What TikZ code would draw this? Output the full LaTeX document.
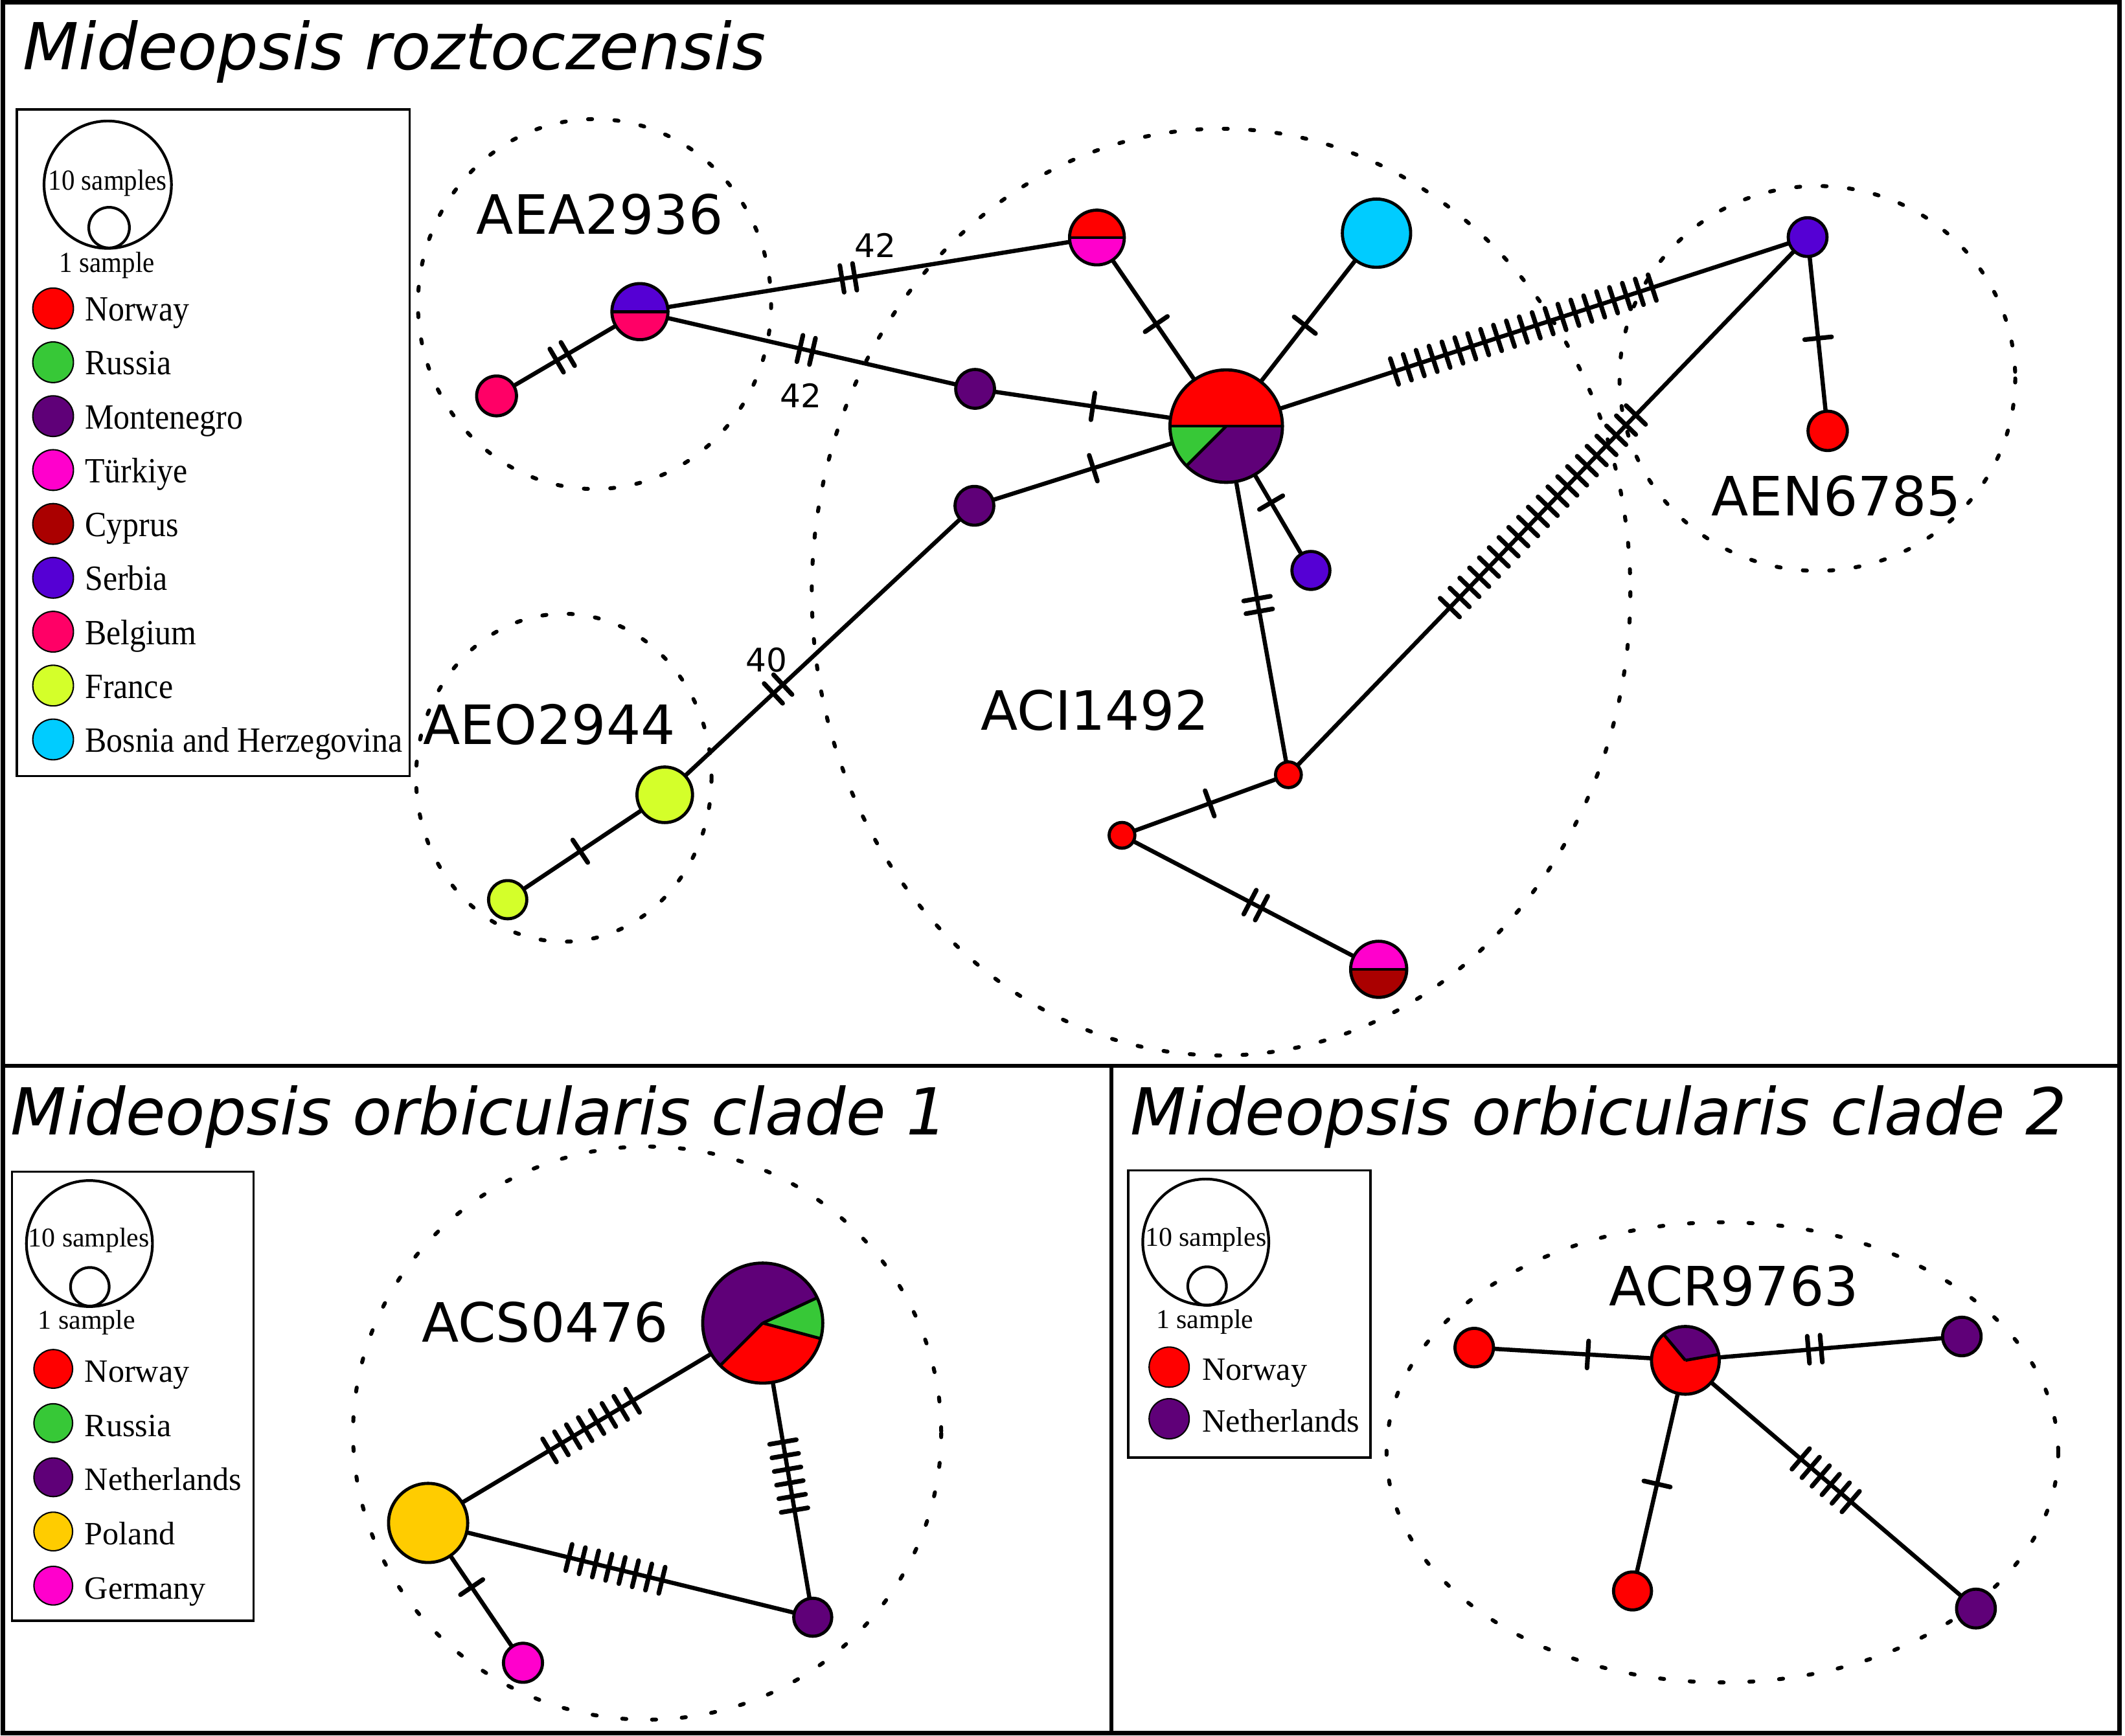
\documentclass[tikz,border=0pt]{standalone}
\usepackage{fontspec}
\usetikzlibrary{calc}
\newfontfamily\dejavu{DejaVu Sans}
\newfontfamily\dejavuit{DejaVu Sans Oblique}
\newfontfamily\lserif{Liberation Serif}
\newfontfamily\lserifw[FakeStretch=0.91]{Liberation Serif}
\definecolor{cNor}{HTML}{FF0000}
\definecolor{cRus}{HTML}{37C837}
\definecolor{cMon}{HTML}{5F0078}
\definecolor{cTur}{HTML}{FF00CC}
\definecolor{cCyp}{HTML}{AA0000}
\definecolor{cSer}{HTML}{5500D4}
\definecolor{cBel}{HTML}{FF0066}
\definecolor{cFra}{HTML}{D4FF2A}
\definecolor{cBos}{HTML}{00CCFF}
\definecolor{cPol}{HTML}{FFCC00}
\definecolor{cGer}{HTML}{FF00CC}
\definecolor{cNet}{HTML}{5F0078}
\newcommand\ttl{\fontsize{47.8}{57}\selectfont\dejavuit}
\newcommand\clu{\fontsize{40}{48}\selectfont\dejavu}
\newcommand\numf{\fontsize{24}{28}\selectfont\dejavu}
\newcommand\ppc{path picture bounding box.center}
\newcommand\pieseg[3]{\fill[#1] (\ppc) -- ($(\ppc)+(#2:100pt)$) -- ($(\ppc)+({(#2+#3)/2}:100pt)$) -- ($(\ppc)+(#3:100pt)$) -- cycle;}
\newcommand\pieline[1]{\draw[line width=2.2pt] (\ppc) -- ($(\ppc)+(#1:100pt)$);}
\newcommand\halfnode[2]{%
  \fill[#1] ($(\ppc)+(-100pt,0pt)$) rectangle ($(\ppc)+(100pt,100pt)$);
  \fill[#2] ($(\ppc)+(-100pt,0pt)$) rectangle ($(\ppc)+(100pt,-100pt)$);
  \draw[line width=2.2pt] ($(\ppc)+(-100pt,0pt)$) -- ($(\ppc)+(100pt,0pt)$);}
% ticks: node a, node b, fraction, count, spacing
\newcommand\tks[5]{%
  \path ($(#1)!#3!(#2)$) coordinate (tkc);
  \foreach \ii in {1,...,#4}{%
    \pgfmathsetmacro\tkoff{(\ii-(#4+1)/2)*#5}%
    \path ($(tkc)!\tkoff pt!(#2)$) coordinate (tkp);
    \draw[tickst] ($(tkp)!10pt!90:(#2)$) -- ($(tkp)!10pt!-90:(#2)$);
  }}
\tikzset{
  every node/.style={inner sep=0pt, outer sep=0pt},
  hap/.style={circle, draw=black, line width=2.3pt, minimum size=#1},
  legc/.style={circle, draw=black, line width=1pt, minimum size=#1},
  sizec/.style={circle, draw=black, line width=2pt, minimum size=#1},
  edgest/.style={line width=3.1pt},
  tickst/.style={line width=3.4pt, line cap=round},
  dotst/.style={line width=2.9pt, dash pattern=on 3pt off 16.5pt, line cap=round},
  dotsb/.style={line width=2.9pt, dash pattern=on 3pt off 19pt, line cap=round},
  legbox/.style={draw=black, line width=1.7pt},
  frame/.style={line width=3.5pt},
}
\begin{document}
\begin{tikzpicture}[x=1pt,y=-1pt]
\useasboundingbox (0,0) rectangle (1568,1281);
\fill[white] (0,0) rectangle (1568,1281);
% frames
\draw[frame] (2,1.6) rectangle (1564,1279.2);
\draw[line width=3pt] (2,786.5) -- (1564,786.5);
\draw[line width=3pt] (820,786.5) -- (820,1279.2);
% titles
\node[anchor=base west] (title1) at (17,51.3) {\ttl Mideopsis roztoczensis};
\node[anchor=base west] (title2) at (8,837.7) {\ttl Mideopsis orbicularis clade 1};
\node[anchor=base west] (title3) at (834,837.7) {\ttl Mideopsis orbicularis clade 2};
% cluster ellipses
\draw[dotst] (438.7,224.4) ellipse [x radius=130.3, y radius=136.5];
\draw[dotst] (901,437) ellipse [x radius=302, y radius=342];
\draw[dotst] (416,574) ellipse [x radius=109, y radius=121];
\draw[dotst] (1341,279.3) ellipse [x radius=146, y radius=142];
\draw[dotsb] (477.5,1057.7) ellipse [x radius=217, y radius=211.5];
\draw[dotsb] (1270.9,1071.9) ellipse [x radius=247.8, y radius=169.8];
% ---- legend top
\draw[legbox] (12.5,80.7) rectangle (302.3,572.7);
\node[sizec=94pt] (l1big) at (79.5,136.3) {};
\node[sizec=30pt] (l1small) at (80.5,168) {};
\node[anchor=base] (l1ten) at (79.5,140.2) {\lserifw\fontsize{21.5}{24}\selectfont 10 samples};
\node[anchor=base] (l1one) at (79,200.8) {\lserifw\fontsize{21.5}{24}\selectfont 1 sample};
\foreach \c/\t [count=\k from 0] in {cNor/Norway,cRus/Russia,cMon/Montenegro,cTur/Türkiye,cCyp/Cyprus,cSer/Serbia,cBel/Belgium,cFra/France,cBos/Bosnia and Herzegovina}{
  \node[legc=30pt, fill=\c] (l1c\k) at (39.2,{227.6+39.77*\k}) {};
  \node[anchor=base west] (l1t\k) at (62.8,{236.9+39.77*\k}) {\lserifw\fontsize{26.2}{30}\selectfont \t};
}
% ---- legend bottom left
\draw[legbox] (8.9,864.7) rectangle (187.2,1196.3);
\node[sizec=93pt] (l2big) at (66,917.8) {};
\node[sizec=28.5pt] (l2small) at (66.3,949.7) {};
\node[anchor=base] (l2ten) at (65.6,920.2) {\lserif\fontsize{20}{24}\selectfont 10 samples};
\node[anchor=base] (l2one) at (64,981.1) {\lserif\fontsize{20}{24}\selectfont 1 sample};
\foreach \c/\t [count=\k from 0] in {cNor/Norway,cRus/Russia,cNet/Netherlands,cPol/Poland,cGer/Germany}{
  \node[legc=28.5pt, fill=\c] (l2c\k) at (39.3,{1010.3+40*\k}) {};
  \node[anchor=base west] (l2t\k) at (62.5,{1020.1+40*\k}) {\lserif\fontsize{24}{28}\selectfont \t};
}
% ---- legend bottom right
\draw[legbox] (832.5,863.7) rectangle (1011.1,1075.7);
\node[sizec=93pt] (l3big) at (889.7,916.7) {};
\node[sizec=28.5pt] (l3small) at (890.7,949.2) {};
\node[anchor=base] (l3ten) at (889.7,919.6) {\lserif\fontsize{20}{24}\selectfont 10 samples};
\node[anchor=base] (l3one) at (889,980.5) {\lserif\fontsize{20}{24}\selectfont 1 sample};
\foreach \c/\t [count=\k from 0] in {cNor/Norway,cNet/Netherlands}{
  \node[legc=29.6pt, fill=\c] (l3c\k) at (862.7,{1009+38.1*\k}) {};
  \node[anchor=base west] (l3t\k) at (887.2,{1018.8+38.1*\k}) {\lserif\fontsize{24}{28}\selectfont \t};
}
% ---- nodes top panel
\node[hap=41.4pt, path picture={\halfnode{cSer}{cBel}}] (aeah) at (472.2,230) {};
\node[hap=29.4pt, fill=cBel] (aeab) at (366.4,292.2) {};
\node[hap=40.4pt, path picture={\halfnode{cNor}{cTur}}] (nt) at (809.4,175.3) {};
\node[hap=50.4pt, fill=cBos] (bos) at (1015.7,172.1) {};
\node[hap=83pt, path picture={\pieseg{cNor}{0}{180}\pieseg{cRus}{180}{225}\pieseg{cMon}{225}{360}\pieline{0}\pieline{180}\pieline{225}}] (big) at (904.8,314.5) {};
\node[hap=28.6pt, fill=cMon] (mon1) at (719.5,287) {};
\node[hap=28.6pt, fill=cMon] (mon2) at (719,373.3) {};
\node[hap=28pt, fill=cSer] (ser1) at (967.3,421) {};
\node[hap=41pt, fill=cFra] (fr1) at (490.5,586.6) {};
\node[hap=28.2pt, fill=cFra] (fr2) at (374.6,664) {};
\node[hap=19pt, fill=cNor] (jn) at (950.7,571.8) {};
\node[hap=19pt, fill=cNor] (nw) at (827.9,616.5) {};
\node[hap=41.4pt, path picture={\halfnode{cTur}{cCyp}}] (tc) at (1017.3,715.4) {};
\node[hap=28.6pt, fill=cSer] (ser2) at (1333.8,175) {};
\node[hap=29pt, fill=cNor] (nor) at (1348.6,318) {};
% ---- nodes bottom left
\node[hap=58.4pt, fill=cPol] (pl) at (315.9,1124) {};
\node[hap=28.8pt, fill=cGer] (ge) at (385.9,1227.2) {};
\node[hap=28pt, fill=cNet] (ne) at (599.7,1193.6) {};
\node[hap=88.6pt, path picture={\pieseg{cRus}{-15}{25}\pieseg{cMon}{25}{225}\pieseg{cNor}{225}{345}\pieline{25}\pieline{225}\pieline{345}}] (pie1) at (562.8,976.5) {};
% ---- nodes bottom right
\node[hap=50pt, path picture={\pieseg{cNet}{10}{130}\pieseg{cNor}{130}{370}\pieline{10}\pieline{130}}] (pie2) at (1243.6,1004) {};
\node[hap=28.4pt, fill=cNor] (nl) at (1087.8,994.6) {};
\node[hap=28.4pt, fill=cNet] (ntr) at (1447.6,986.4) {};
\node[hap=28pt, fill=cNor] (nb) at (1204.6,1174.2) {};
\node[hap=28.6pt, fill=cNet] (nbr) at (1458,1187.2) {};
% ---- edges top
\draw[edgest] (aeab) -- (aeah); \tks{aeab}{aeah}{0.458}{2}{9.5}
\draw[edgest] (aeah) -- (nt); \tks{aeah}{nt}{0.456}{2}{9.5}
\draw[edgest] (aeah) -- (mon1); \tks{aeah}{mon1}{0.496}{2}{9.5}
\draw[edgest] (mon1) -- (big); \tks{mon1}{big}{0.469}{1}{0}
\draw[edgest] (nt) -- (big); \tks{nt}{big}{0.459}{1}{0}
\draw[edgest] (bos) -- (big); \tks{bos}{big}{0.477}{1}{0}
\draw[edgest] (mon2) -- (big); \tks{mon2}{big}{0.472}{1}{0}
\draw[edgest] (mon2) -- (fr1); \tks{mon2}{fr1}{0.634}{2}{9.5}
\draw[edgest] (fr1) -- (fr2); \tks{fr1}{fr2}{0.538}{1}{0}
\draw[edgest] (big) -- (ser1); \tks{big}{ser1}{0.53}{1}{0}
\draw[edgest] (big) -- (jn); \tks{big}{jn}{0.513}{2}{9.5}
\draw[edgest] (jn) -- (nw); \tks{jn}{nw}{0.473}{1}{0}
\draw[edgest] (nw) -- (tc); \tks{nw}{tc}{0.521}{2}{9.5}
\draw[edgest] (big) -- (ser2); \tks{big}{ser2}{0.511}{21}{10}
\draw[edgest] (jn) -- (ser2); \tks{jn}{ser2}{0.49}{20}{10.4}
\draw[edgest] (ser2) -- (nor); \tks{ser2}{nor}{0.522}{1}{0}
% ---- edges bottom
\draw[edgest] (pl) -- (pie1); \tks{pl}{pie1}{0.487}{8}{10.2}
\draw[edgest] (pl) -- (ne); \tks{pl}{ne}{0.487}{8}{10.1}
\draw[edgest] (pie1) -- (ne); \tks{pie1}{ne}{0.52}{6}{10.2}
\draw[edgest] (pl) -- (ge); \tks{pl}{ge}{0.459}{1}{0}
\draw[edgest] (nl) -- (pie2); \tks{nl}{pie2}{0.538}{1}{0}
\draw[edgest] (pie2) -- (ntr); \tks{pie2}{ntr}{0.468}{2}{9.5}
\draw[edgest] (pie2) -- (nb); \tks{pie2}{nb}{0.536}{1}{0}
\draw[edgest] (pie2) -- (nbr); \tks{pie2}{nbr}{0.483}{6}{9.7}
% ---- labels
\node[font=\clu] (lAEA) at (442.6,158) {AEA2936};
\node[font=\clu] (lAEO) at (405.3,534.7) {AEO2944};
\node[font=\clu] (lACI) at (808,524.4) {ACI1492};
\node[font=\clu] (lAEN) at (1355,366) {AEN6785};
\node[font=\clu] (lACS) at (402.3,975.7) {ACS0476};
\node[font=\clu] (lACR) at (1279.3,949.3) {ACR9763};
\node[font=\numf] (n42a) at (645.9,181) {42};
\node[font=\numf] (n42b) at (590.7,292) {42};
\node[font=\numf] (n40) at (565.7,487) {40};
\end{tikzpicture}
\end{document}
